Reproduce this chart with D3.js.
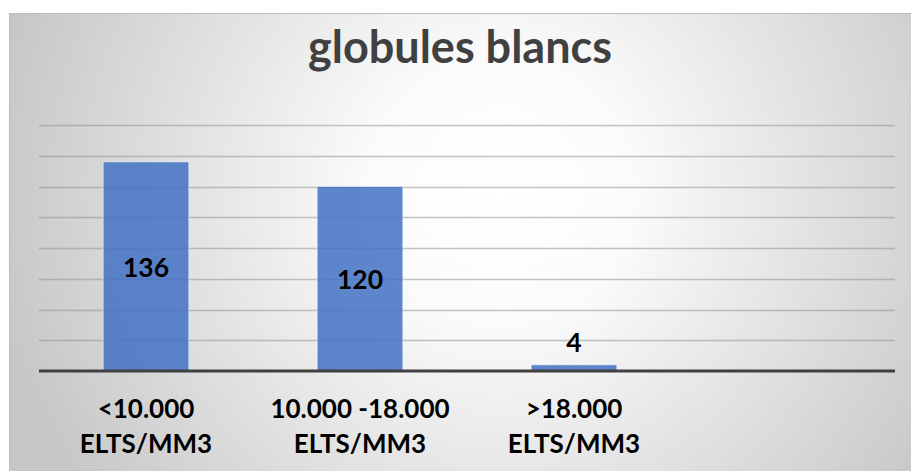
<!DOCTYPE html>
<html>
<head>
<meta charset="utf-8">
<script src="https://cdn.jsdelivr.net/npm/d3@7/dist/d3.min.js"></script>
<style>
  html, body { margin: 0; padding: 0; background: #fff; }
  svg { display: block; }
</style>
</head>
<body>
<svg id="chart" width="911" height="471"></svg>
<script>
// White blood cell counts by range
const categories = [
  ["<10.000", "ELTS/MM3"],
  ["10.000 -18.000", "ELTS/MM3"],
  [">18.000", "ELTS/MM3"],
  [""]
];
const values = [136, 120, 4, null];
const yTicks = [0, 20, 40, 60, 80, 100, 120, 140, 160];
const title = "globules blancs";

const W = 911, H = 471;
const frame = { x: 9, y: 13, w: W - 9, h: H - 13 };
const plot = { left: 39, right: 895, top: 125, bottom: 371 };
const FONT = "Lato, 'Open Sans', sans-serif";

const svg = d3.select("#chart");
const defs = svg.append("defs");

const bg = defs.append("radialGradient")
  .attr("id", "bg")
  .attr("gradientUnits", "userSpaceOnUse")
  .attr("cx", 500).attr("cy", 190).attr("r", 520);
bg.append("stop").attr("offset", "0%").attr("stop-color", "#ffffff");
bg.append("stop").attr("offset", "25%").attr("stop-color", "#fbfbfb");
bg.append("stop").attr("offset", "100%").attr("stop-color", "#c6c6c6");

// chart frame
svg.append("rect")
  .attr("x", frame.x).attr("y", frame.y)
  .attr("width", frame.w).attr("height", frame.h)
  .attr("fill", "url(#bg)");
svg.append("path")
  .attr("d", `M${frame.x + 0.5},${H} V${frame.y + 0.5} H${W}`)
  .attr("fill", "none")
  .attr("stroke", "#bdbdbd")
  .attr("stroke-width", 1);

const x = d3.scaleBand()
  .domain(d3.range(categories.length))
  .range([plot.left, plot.right])
  .padding(0);

const y = d3.scaleLinear()
  .domain([0, 160])
  .range([plot.bottom, plot.top]);

// horizontal gridlines
svg.append("g")
  .selectAll("line")
  .data(yTicks.filter(t => t > 0))
  .join("line")
  .attr("x1", plot.left).attr("x2", plot.right)
  .attr("y1", d => Math.round(y(d)) + 0.5)
  .attr("y2", d => Math.round(y(d)) + 0.5)
  .attr("stroke", "#8c8c8c")
  .attr("stroke-opacity", 0.5)
  .attr("stroke-width", 1.3);

// bars
const barW = x.bandwidth() * 0.4;
const data = values.map((v, i) => ({ i, v })).filter(d => d.v != null);

svg.append("g")
  .selectAll("rect")
  .data(data)
  .join("rect")
  .attr("x", d => x(d.i) + (x.bandwidth() - barW) / 2)
  .attr("width", barW)
  .attr("y", d => y(d.v))
  .attr("height", d => y(0) - y(d.v))
  .attr("fill", "#4472c4")
  .attr("fill-opacity", 0.86)
  .attr("stroke", "#ffffff")
  .attr("stroke-opacity", 0.5)
  .attr("stroke-width", 1);

// x axis baseline
svg.append("line")
  .attr("x1", plot.left).attr("x2", plot.right)
  .attr("y1", y(0)).attr("y2", y(0))
  .attr("stroke", "#404040")
  .attr("stroke-width", 3);

// value labels: centred inside tall bars, above short ones
svg.append("g")
  .selectAll("text")
  .data(data)
  .join("text")
  .attr("x", d => x(d.i) + x.bandwidth() / 2)
  .attr("y", d => {
    const h = y(0) - y(d.v);
    return h > 40 ? (y(d.v) + y(0)) / 2 + 1 : y(d.v) - 22;
  })
  .attr("dy", "0.36em")
  .attr("text-anchor", "middle")
  .attr("font-family", FONT)
  .attr("font-weight", 700)
  .attr("font-size", 26.5)
  .attr("fill", "#000")
  .text(d => d.v);

// category labels
const cat = svg.append("g")
  .selectAll("text")
  .data(categories.map((c, i) => ({ c, i })))
  .join("text")
  .attr("x", d => x(d.i) + x.bandwidth() / 2)
  .attr("y", 418)
  .attr("text-anchor", "middle")
  .attr("font-family", FONT)
  .attr("font-weight", 700)
  .attr("font-size", 26)
  .attr("fill", "#000");
cat.selectAll("tspan")
  .data(d => d.c.map((line, k) => ({ line, k, cx: x(d.i) + x.bandwidth() / 2 })))
  .join("tspan")
  .attr("x", d => d.cx)
  .attr("dy", d => d.k === 0 ? 0 : 35)
  .text(d => d.line);

// title
svg.append("text")
  .attr("x", frame.x + frame.w / 2)
  .attr("y", 63)
  .attr("text-anchor", "middle")
  .attr("font-family", FONT)
  .attr("font-weight", 700)
  .attr("font-size", 45)
  .attr("fill", "#404040")
  .text(title);
</script>
</body>
</html>
